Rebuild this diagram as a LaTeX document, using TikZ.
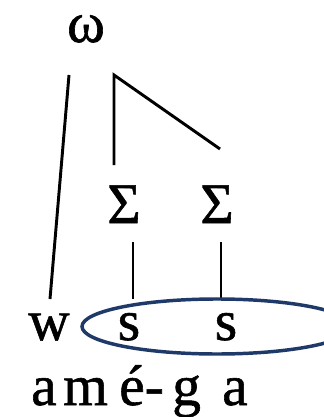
\documentclass[tikz,border=0pt]{standalone}
\usepackage{fontspec}
\setmainfont{Liberation Serif}
\newfontfamily\diafont{Liberation Serif}
\definecolor{navy}{HTML}{1F3A68}
\newcommand\diasize{\diafont\fontsize{43}{51}\selectfont\addfontfeature{FakeBold=1}}
\begin{document}
\begin{tikzpicture}[x=0.75pt,y=-0.75pt,
  lbl/.style={inner sep=0pt,anchor=base,font=\diasize},
  seg/.style={anchor=base west,inner sep=0pt,font=\diasize},
  ln/.style={line width=2.2pt,black},
  thin/.style={line width=1.7pt,black}]
\useasboundingbox (0,0) rectangle (324,417);
\node[lbl,text height=20pt,text depth=0pt] (om) at (86,42) {ω};
\node[lbl] (S1) at (124,223) {Σ};
\node[lbl] (S2) at (217,223) {Σ};
\node[lbl] (w) at (49,340) {w};
\node[lbl] (s1) at (129,340) {s};
\node[lbl] (s2) at (226,340) {s};
\node[seg] (a1) at (31,405) {a};
\node[seg] (m) at (63,405) {m};
\node[seg] (e) at (119,405) {é-};
\node[seg] (g) at (172,405) {g};
\node[seg] (a2) at (222,405) {a};
\coordinate (omL) at (69,75);
\coordinate (wT) at (50,299);
\coordinate (br) at (114,75);
\coordinate (brV) at (114,165);
\coordinate (brD) at (220,149);
\coordinate (S1b) at (133,242);
\coordinate (s1t) at (133,299);
\coordinate (S2b) at (221,242);
\coordinate (s2t) at (221,299);
\draw[ln] (omL) -- (wT);
\draw[ln] (brV) -- (br) -- (brD);
\draw[thin] (S1b) -- (s1t);
\draw[thin] (S2b) -- (s2t);
\begin{scope}
\clip (0,0) rectangle (324,417);
\draw[navy,line width=2.6pt] (217,326.5) ellipse [x radius=135,y radius=27.5];
\end{scope}
\end{tikzpicture}
\end{document}
